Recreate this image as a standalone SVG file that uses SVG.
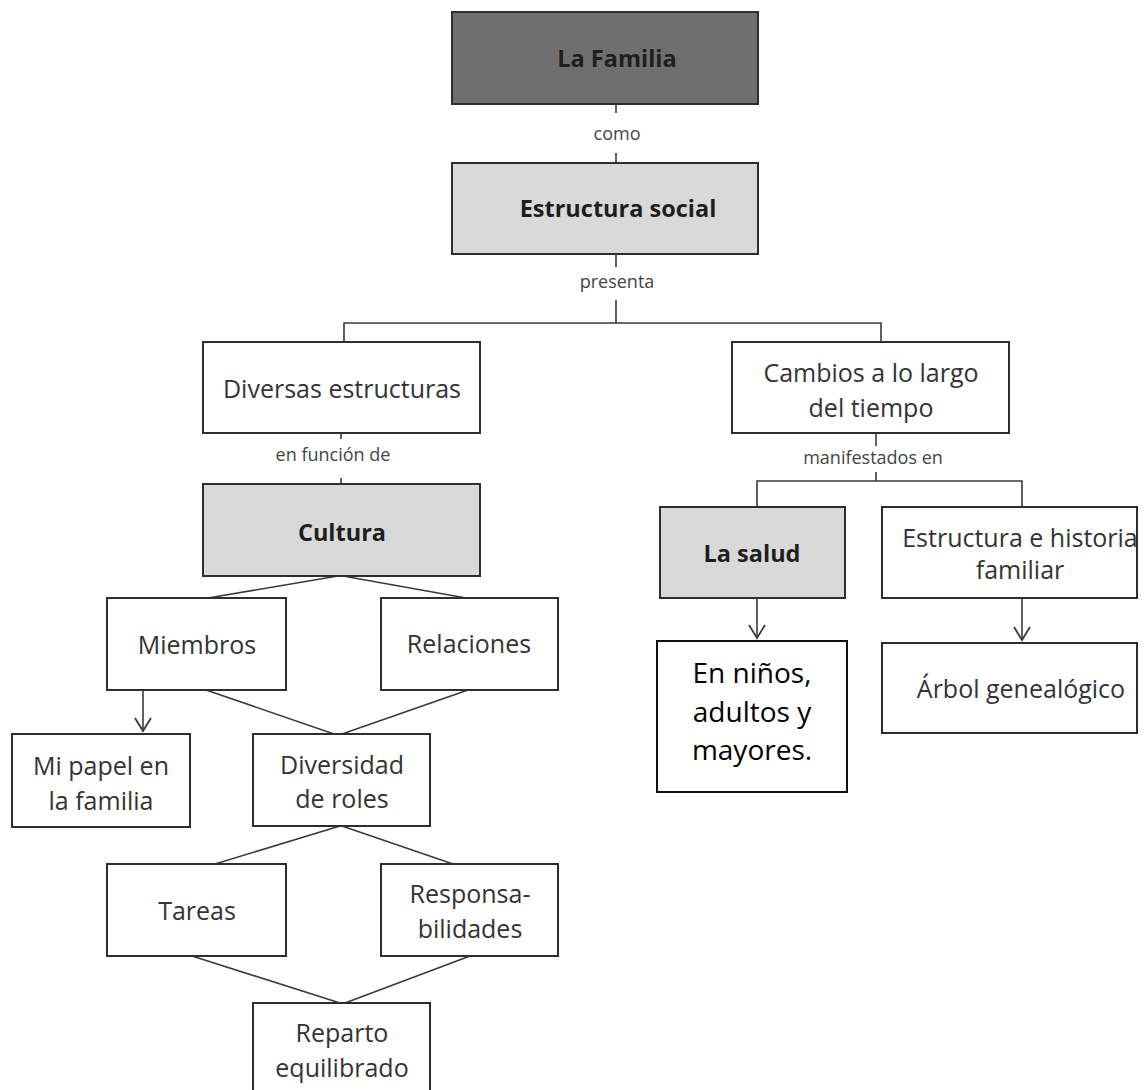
<svg xmlns="http://www.w3.org/2000/svg" width="1145" height="1090" viewBox="0 0 1145 1090">
<style>
.box{fill:#fff;stroke:#2e2e2e;stroke-width:2}
.dark{fill:#6f6f6f}
.light{fill:#d9d9d9}
.t{font-family:"Open Sans","Liberation Sans",sans-serif;font-size:25px;fill:#333;text-anchor:middle}
.b{font-weight:bold;font-size:23.5px;fill:#1e1e1e}
.s{font-size:18px;fill:#444}
.big{font-size:28px;fill:#000}
.ln{fill:none;stroke:#3a3a3a;stroke-width:1.6}
</style>
<defs>
<marker id="arr" viewBox="-14 -10 16 20" markerWidth="16" markerHeight="20" refX="0" refY="0" orient="auto" markerUnits="userSpaceOnUse">
<path d="M-13,-8 L0,0 L-13,8" fill="none" stroke="#3a3a3a" stroke-width="1.8"/>
</marker>
</defs>
<rect width="1145" height="1090" fill="#fff"/>
<g id="connectors">
<path class="ln" d="M616,104 V113 M616,153 V163"/>
<text class="t s" x="617" y="140">como</text>
<path class="ln" d="M616,254 V267 M616,300 V323 M344,342 V323 H881 V342"/>
<text class="t s" x="617" y="288">presenta</text>
<path class="ln" d="M341,433 V439 M341,478 V484"/>
<text class="t s" x="333" y="461">en función de</text>
<path class="ln" d="M876,433 V446 M876,472 V481 M757,507 V481 H1022 V507"/>
<text class="t s" x="873" y="464">manifestados en</text>
<path class="ln" d="M338,576 L208,598 M343,576 L466,598"/>
<path class="ln" d="M206,690 L334,734 M468,690 L342,734"/>
<path class="ln" d="M340,826 L215,864 M342,826 L453,864"/>
<path class="ln" d="M192,956 L340,1003 M470,956 L345,1003"/>
<line class="ln" x1="143" y1="690" x2="143" y2="731" marker-end="url(#arr)"/>
<line class="ln" x1="757" y1="598" x2="757" y2="638" marker-end="url(#arr)"/>
<line class="ln" x1="1022" y1="598" x2="1022" y2="640" marker-end="url(#arr)"/>
</g>
<g id="n-familia"><rect class="box dark" x="452" y="12" width="306" height="92"/><text class="t b" x="617" y="67">La Familia</text></g>
<g id="n-estructura"><rect class="box light" x="452" y="163" width="306" height="91"/><text class="t b" x="618" y="217">Estructura social</text></g>
<g id="n-diversas"><rect class="box" x="203" y="342" width="277" height="91"/><text class="t" x="342" y="398">Diversas estructuras</text></g>
<g id="n-cambios"><rect class="box" x="732" y="342" width="277" height="91"/><text class="t" x="871" y="382">Cambios a lo largo</text><text class="t" x="871" y="417">del tiempo</text></g>
<g id="n-cultura"><rect class="box light" x="203" y="484" width="277" height="92"/><text class="t b" x="342" y="541">Cultura</text></g>
<g id="n-salud"><rect class="box light" x="660" y="507" width="185" height="91"/><text class="t b" x="752" y="562">La salud</text></g>
<g id="n-historia"><rect class="box" x="882" y="507" width="255" height="91"/><text class="t" x="1020" y="547">Estructura e historia</text><text class="t" x="1020" y="579">familiar</text></g>
<g id="n-ninos"><rect class="box" x="657" y="641" width="190" height="151" style="stroke:#111"/><text class="t big" x="752" y="683">En niños,</text><text class="t big" x="752" y="722">adultos y</text><text class="t big" x="752" y="760">mayores.</text></g>
<g id="n-arbol"><rect class="box" x="882" y="643" width="255" height="90"/><text class="t" x="1021" y="698">Árbol genealógico</text></g>
<g id="n-miembros"><rect class="box" x="107" y="598" width="179" height="92"/><text class="t" x="197" y="654">Miembros</text></g>
<g id="n-relaciones"><rect class="box" x="381" y="598" width="177" height="92"/><text class="t" x="469" y="653">Relaciones</text></g>
<g id="n-mipapel"><rect class="box" x="12" y="734" width="178" height="93"/><text class="t" x="101" y="775">Mi papel en</text><text class="t" x="101" y="810">la familia</text></g>
<g id="n-diversidad"><rect class="box" x="253" y="734" width="177" height="92"/><text class="t" x="342" y="774">Diversidad</text><text class="t" x="342" y="808">de roles</text></g>
<g id="n-tareas"><rect class="box" x="107" y="864" width="179" height="92"/><text class="t" x="197" y="920">Tareas</text></g>
<g id="n-resp"><rect class="box" x="381" y="864" width="177" height="92"/><text class="t" x="470" y="903">Responsa-</text><text class="t" x="470" y="938">bilidades</text></g>
<g id="n-reparto"><rect class="box" x="253" y="1003" width="177" height="95"/><text class="t" x="342" y="1042">Reparto</text><text class="t" x="342" y="1077">equilibrado</text></g>
</svg>
